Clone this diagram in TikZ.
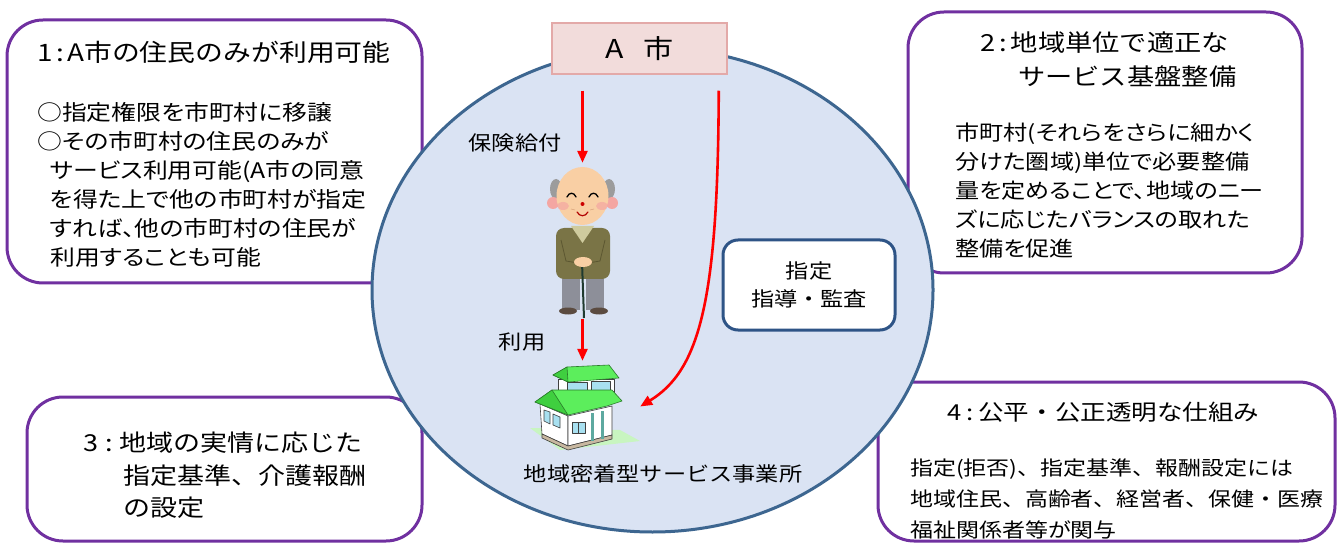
\documentclass[tikz,border=0pt]{standalone}
\usepackage{fontspec}
\setmainfont[FakeStretch=1.16]{Noto Sans CJK JP}
\usetikzlibrary{arrows.meta,shapes.geometric}

\definecolor{boxpurple}{HTML}{7030A0}
\definecolor{areafill}{HTML}{DAE3F3}
\definecolor{areaedge}{HTML}{3D6690}
\definecolor{tagedge}{HTML}{2E5486}
\definecolor{cityfill}{HTML}{F2DCDB}
\definecolor{cityedge}{HTML}{E3A9A8}
\definecolor{skin}{HTML}{F9CFA4}
\definecolor{skinline}{HTML}{D9A47C}
\definecolor{hairgray}{HTML}{9C9C9C}
\definecolor{blush}{HTML}{F4A6A2}
\definecolor{cardigan}{HTML}{7A7446}
\definecolor{cardigandark}{HTML}{5C5731}
\definecolor{collar}{HTML}{CFCB9E}
\definecolor{pants}{HTML}{8D8F99}
\definecolor{shoe}{HTML}{5B4B40}
\definecolor{cane}{HTML}{1F3A2F}
\definecolor{roof}{HTML}{5CEE5C}
\definecolor{roofside}{HTML}{3FCF3F}
\definecolor{roofline}{HTML}{2A7A2A}
\definecolor{glass}{HTML}{A8E0F0}
\definecolor{ground}{HTML}{C8F5C0}
\definecolor{pillar}{HTML}{5DA9A0}
\definecolor{basestrip}{HTML}{C8B8A0}

\tikzset{
  pbox/.style={draw=boxpurple, line width=3pt, fill=white, rounded corners=36pt, inner sep=0pt},
  tagbox/.style={draw=tagedge, line width=3pt, fill=white, rounded corners=15pt, inner sep=0pt,
                 align=center, font=\fontsize{20pt}{28pt}\selectfont},
  citybox/.style={draw=cityedge, line width=1.5pt, fill=cityfill, inner sep=0pt,
                  font=\fontsize{26pt}{30pt}\selectfont},
  area/.style={ellipse, draw=areaedge, line width=3pt, fill=areafill, inner sep=0pt},
  holder/.style={inner sep=0pt},
  txt/.style 2 args={inner sep=0pt, align=left, font=\fontsize{#1}{#2}\selectfont},
  ptxt/.style 2 args={inner sep=0pt, align=left,
                      font=\fontsize{#1}{#2}\selectfont\addfontfeatures{RawFeature=+palt}},
  label/.style={inner sep=0pt, font=\fontsize{20pt}{24pt}\selectfont},
  flow/.style={draw=red, line width=2.6pt, -{Triangle[length=12pt,width=10pt]}},
  hline/.style={draw=black!75, line width=0.6pt}
}

\begin{document}
\begin{tikzpicture}[x=1pt,y=-1pt]
\useasboundingbox (0,0) rectangle (1338,545);
\fill[white] (0,0) rectangle (1338,545);

% four corner boxes
\node[pbox, minimum width=415pt, minimum height=263pt] (box1) at (214.5,151.5) {};
\node[pbox, minimum width=394pt, minimum height=261pt] (box2) at (1105,142.5) {};
\node[pbox, minimum width=395pt, minimum height=144pt] (box3) at (224.5,469) {};
\node[pbox, minimum width=457pt, minimum height=159pt] (box4) at (1106.5,461.5) {};

% box texts
\node[txt={24pt}{34pt}, anchor=west] (t1) at (37,52) {1\hspace{4pt}:\hspace{3pt}A市の住民のみが利用可能};
\node[ptxt={21.4pt}{29pt}, anchor=north west] (b1) at (37,102)
  {○指定権限を市町村に移譲\\
   ○その市町村の住民のみが\\
   \hspace*{13pt}サービス利用可能(A市の同意\\
   \hspace*{13pt}を得た上で他の市町村が指定\\
   \hspace*{13pt}すれば、他の市町村の住民が\\
   \hspace*{13pt}利用することも可能};

\node[txt={23.5pt}{34pt}, anchor=north west] (t2) at (980,32)
  {2\hspace{4pt}:\hspace{4pt}地域単位で適正な\\
   \hspace*{38pt}サービス基盤整備};
\node[ptxt={20.8pt}{28.8pt}, anchor=north west] (b2) at (955,123.2)
  {市町村(それらをさらに細かく\\
   分けた圏域)単位で必要整備\\
   量を定めることで、地域のニー\\
   ズに応じたバランスの取れた\\
   整備を促進};

\node[txt={23.3pt}{32.5pt}, anchor=north west] (t3) at (83,432)
  {3\hspace{7pt}:\hspace{7pt}地域の実情に応じた\\
   \hspace*{40pt}指定基準、介護報酬\\
   \hspace*{40pt}の設定};

\node[txt={22pt}{30pt}, anchor=west] (t4) at (947,412) {4\hspace{5pt}:\hspace{5pt}公平・公正透明な仕組み};
\node[txt={19.8pt}{31pt}, anchor=north west] (b4) at (910,458.6)
  {指定(拒否)、指定基準、報酬設定には\\
   地域住民、高齢者、経営者、保健・医療\\
   福祉関係者等が関与};

% central area
\node[area, minimum width=561pt, minimum height=484pt] (zone) at (652.5,290) {};
\node[citybox, minimum width=175pt, minimum height=51pt] (Acity) at (639.5,48.5) {A\hspace{20pt}市};
\node[tagbox, minimum width=172pt, minimum height=90pt] (tag) at (809,285) {指定\\指導・監査};

% placeholders for the two figures
\node[holder, minimum width=66pt, minimum height=156pt] (person) at (582.5,241) {};
\node[holder, minimum width=110pt, minimum height=91pt] (house) at (585,406.5) {};

% --- elderly man ---
\begin{scope}
  % hair tufts
  \fill[hairgray] (556,189) ellipse [x radius=6, y radius=10];
  \fill[hairgray] (609,189) ellipse [x radius=6, y radius=10];
  % ears
  \fill[blush] (553,203) circle [radius=6];
  \fill[blush] (612,203) circle [radius=6];
  % head
  \fill[skin] (582.5,196) ellipse [x radius=26, y radius=29];
  % cheeks
  \fill[blush, opacity=0.7] (563,206) ellipse [x radius=6, y radius=4];
  \fill[blush, opacity=0.7] (602,206) ellipse [x radius=6, y radius=4];
  % eyes
  \draw[black, line width=1.3pt, line cap=round] (567,197) .. controls (569,192) and (574,192) .. (576,197);
  \draw[black, line width=1.3pt, line cap=round] (589,197) .. controls (591,192) and (596,192) .. (598,197);
  % nose and mouth
  \fill[red!80!black] (582.5,204) circle [radius=2];
  \draw[red!70!black, line width=1.2pt, line cap=round] (577,212) .. controls (580,217) and (585,217) .. (588,212);
  % wrinkles
  \draw[skinline, line width=0.6pt] (571,209) -- (575,210);
  \draw[skinline, line width=0.6pt] (590,210) -- (594,209);
  % legs and shoes
  \fill[pants] (562,275) rectangle (580,310);
  \fill[pants] (586,275) rectangle (604,310);
  \fill[shoe] (568,311) ellipse [x radius=9, y radius=3.5];
  \fill[shoe] (599,311) ellipse [x radius=9, y radius=3.5];
  % cardigan
  \fill[cardigan, rounded corners=8pt] (556,228) rectangle (610,279);
  \fill[collar] (571,226) -- (594,226) -- (582.5,243) -- cycle;
  \draw[cardigandark, line width=0.8pt] (561,240) -- (566,261) -- (578,263);
  \draw[cardigandark, line width=0.8pt] (605,240) -- (600,261) -- (588,263);
  % cane and hands
  \draw[cane, line width=2pt] (582,262) -- (584,318);
  \fill[skin] (583,262) ellipse [x radius=9, y radius=5];
\end{scope}

% --- house ---
\begin{scope}[line join=round]
  \fill[ground] (530,428) -- (560,450) -- (640,441) -- (620,430) -- cycle;
  % lower walls
  \filldraw[fill=white, hline] (540,404) -- (568,416) -- (568,446) -- (542,434) -- cycle;
  \filldraw[fill=white, hline] (568,416) -- (612,406) -- (612,435) -- (568,446) -- cycle;
  \filldraw[fill=basestrip, hline] (542,434) -- (568,446) -- (612,435) -- (612,439) -- (568,450) -- (542,438) -- cycle;
  \filldraw[fill=glass, hline] (544,410) -- (550,412) -- (550,424) -- (544,421) -- cycle;
  \filldraw[fill=glass, hline] (553,414) -- (560,417) -- (560,428) -- (553,425) -- cycle;
  \filldraw[fill=glass, hline] (572,422) rectangle (585,433);
  \draw[hline] (578.5,422) -- (578.5,433);
  \fill[pillar] (591,413) rectangle (594,441);
  \fill[pillar] (601,411) rectangle (604,439);
  % upper storey
  \filldraw[fill=white, hline] (558,379) rectangle (614,393);
  \filldraw[fill=glass, hline] (567,382) rectangle (587,391);
  \filldraw[fill=glass, hline] (591,381) rectangle (610,390);
  % lower roof
  \filldraw[fill=roof, draw=roofline, line width=0.6pt] (535,402) -- (552,390) -- (612,390) -- (622,401) -- (607,406) -- (568,415) -- cycle;
  \filldraw[fill=roofside, draw=roofline, line width=0.6pt] (535,402) -- (552,390) -- (568,415) -- cycle;
  % upper roof
  \filldraw[fill=roof, draw=roofline, line width=0.6pt] (553,375) -- (567,367) -- (609,365) -- (619,378) -- (568,382) -- cycle;
  \filldraw[fill=roofside, draw=roofline, line width=0.6pt] (553,375) -- (567,367) -- (568,382) -- cycle;
\end{scope}

% labels
\node[label] (lbenefit) at (515,142.5) {保険給付};
\node[label] (luse) at (522,342) {利用};
\node[label] (lhouse) at (663,474) {地域密着型サービス事業所};

% flows
\draw[flow, shorten <=16pt] (person.north |- Acity.south) -- (person.north);
\draw[flow] (person.south) -- (person.south |- house.north);
\draw[flow] ([xshift=-9pt,yshift=-16pt]Acity.south east)
  .. controls (718,300) and (700,370) .. (house.east);
\end{tikzpicture}
\end{document}
